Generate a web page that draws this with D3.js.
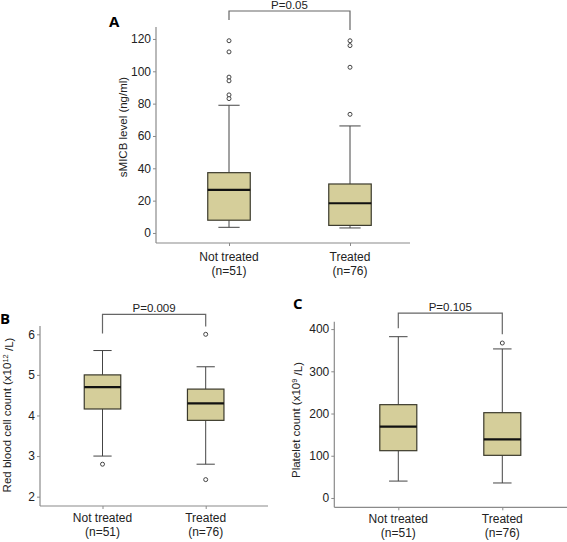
<!DOCTYPE html>
<html>
<head>
<meta charset="utf-8">
<script src="https://cdn.jsdelivr.net/npm/d3@7"></script>
<style>
body{margin:0;background:#fff;}
svg{display:block;font-family:"Liberation Sans",Arial,sans-serif;}
</style>
</head>
<body>
<svg id="chart" width="567" height="542"></svg>
<script>
// ---------- data ----------
const categories = ["Not treated", "Treated"];
const nLabels = ["(n=51)", "(n=76)"];

// [whiskerLow, Q1, median, Q3, whiskerHigh]
const smicbStats = [[3.5, 7.9, 26.6, 37.3, 79], [3.1, 4.7, 18.4, 30.3, 66.2]];
const smicbOutliers = [[118.9, 112, 96.4, 94.1, 85.4, 83.1], [118.9, 115.9, 102.5, 73.4]];
const smicbTicks = [0, 20, 40, 60, 80, 100, 120];

const rbcStats = [[3.0, 4.16, 4.7, 5.0, 5.6], [2.8, 3.88, 4.3, 4.65, 5.2]];
const rbcOutliers = [[2.8], [6.0, 2.42]];
const rbcTicks = [2, 3, 4, 5, 6];

const pltStats = [[40, 112, 169, 221, 382], [35.5, 101, 139, 202, 353]];
const pltOutliers = [[], [367]];
const pltTicks = [0, 100, 200, 300, 400];

const pLabels = ["P=0.05", "P=0.009", "P=0.105"];
// bracket [top, leftEnd, rightEnd] in data units
const brackets = [[137.3, 131.8, 125.6], [6.49, 6.02, 6.19], [438, 402, 388]];

// ---------- layout ----------
const svg = d3.select("#chart");
const panels = [
  {letter: "A", lx: 109, ly: 27, stats: smicbStats, outliers: smicbOutliers, ticks: smicbTicks,
   yDomain: [-6.2, 127.4], yRange: [243, 27], axisX: 156, xEnd: 410, catRange: [229, 350], boxW: 42.5,
   ylab: ["sMICB level (ng/ml)"], ylx: 123, yly: 127, xl1: 261, bracket: brackets[0], p: pLabels[0]},
  {letter: "B", lx: 0, ly: 324, stats: rbcStats, outliers: rbcOutliers, ticks: rbcTicks,
   yDomain: [1.77, 6.0 + (334.3 - 326) / 40.6], yRange: [506, 326], axisX: 40, xEnd: 268, catRange: [102.5, 205.7], boxW: 36.5,
   ylab: ["Red blood cell count (x10", "12", " /L)"], ylx: 7, yly: 415, xl1: 522, bracket: brackets[1], p: pLabels[1]},
  {letter: "C", lx: 293, ly: 309, stats: pltStats, outliers: pltOutliers, ticks: pltTicks,
   yDomain: [-22.1, 417.5], yRange: [507.3, 321.7], axisX: 334.3, xEnd: 567, catRange: [398.3, 502.3], boxW: 37,
   ylab: ["Platelet count (x10", "9", " /L)"], ylx: 296, yly: 420, xl1: 523, bracket: brackets[2], p: pLabels[2]}
];

const fillCol = "#d5ce9a", boxStroke = "#3b3a2c", axisCol = "#8a8a8a", txtCol = "#222";

panels.forEach(P => {
  const y = d3.scaleLinear().domain(P.yDomain).range(P.yRange);
  const x = d3.scalePoint().domain(categories).range(P.catRange);
  const g = svg.append("g");

  // y axis
  const ya = g.append("g").attr("transform", `translate(${P.axisX},0)`)
    .call(d3.axisLeft(y).tickValues(P.ticks).tickFormat(d3.format("d")).tickSize(3).tickSizeOuter(0).tickPadding(2));
  ya.select(".domain").remove();
  ya.selectAll(".tick line").attr("stroke", axisCol);
  ya.selectAll(".tick text").attr("fill", txtCol).style("font-size", "12px").style("font-family", "Liberation Sans, Arial, sans-serif");
  g.append("line").attr("x1", P.axisX).attr("x2", P.axisX).attr("y1", P.yRange[1]).attr("y2", P.yRange[0])
    .attr("stroke", axisCol).attr("stroke-width", 1.2);

  // x axis
  const xa = g.append("g").attr("transform", `translate(0,${P.yRange[0]})`)
    .call(d3.axisBottom(x).tickSize(3).tickFormat(""));
  xa.select(".domain").remove();
  xa.selectAll(".tick line").attr("stroke", axisCol);
  g.append("line").attr("x1", P.axisX).attr("x2", P.xEnd).attr("y1", P.yRange[0]).attr("y2", P.yRange[0])
    .attr("stroke", axisCol).attr("stroke-width", 1.2);

  categories.forEach((c, i) => {
    g.append("text").attr("x", x(c)).attr("y", P.xl1).attr("text-anchor", "middle")
      .attr("fill", txtCol).style("font-size", "12px").text(c);
    g.append("text").attr("x", x(c)).attr("y", P.xl1 + 14).attr("text-anchor", "middle")
      .attr("fill", txtCol).style("font-size", "12px").text(nLabels[i]);
  });

  // boxes
  categories.forEach((c, i) => {
    const s = P.stats[i], cx = x(c), hw = P.boxW / 2;
    g.append("line").attr("x1", cx).attr("x2", cx).attr("y1", y(s[0])).attr("y2", y(s[1])).attr("stroke", "#444");
    g.append("line").attr("x1", cx).attr("x2", cx).attr("y1", y(s[3])).attr("y2", y(s[4])).attr("stroke", "#444");
    g.append("line").attr("x1", cx - hw / 2).attr("x2", cx + hw / 2).attr("y1", y(s[0])).attr("y2", y(s[0])).attr("stroke", "#444");
    g.append("line").attr("x1", cx - hw / 2).attr("x2", cx + hw / 2).attr("y1", y(s[4])).attr("y2", y(s[4])).attr("stroke", "#444");
    g.append("rect").attr("x", cx - hw).attr("width", P.boxW).attr("y", y(s[3])).attr("height", y(s[1]) - y(s[3]))
      .attr("fill", fillCol).attr("stroke", boxStroke).attr("stroke-width", 1.2);
    g.append("line").attr("x1", cx - hw).attr("x2", cx + hw).attr("y1", y(s[2])).attr("y2", y(s[2]))
      .attr("stroke", "#111").attr("stroke-width", 2.2);
    P.outliers[i].forEach(v => {
      g.append("circle").attr("cx", cx).attr("cy", y(v)).attr("r", 2)
        .attr("fill", "#fff").attr("stroke", "#444").attr("stroke-width", 1);
    });
  });

  // bracket
  const b = P.bracket, x0 = x(categories[0]), x1 = x(categories[1]);
  g.append("path").attr("d", `M${x0},${y(b[1])}V${y(b[0])}H${x1}V${y(b[2])}`)
    .attr("fill", "none").attr("stroke", "#666").attr("stroke-width", 1.2);
  g.append("text").attr("x", (x0 + x1) / 2).attr("y", y(b[0]) - 2).attr("text-anchor", "middle")
    .attr("fill", txtCol).style("font-size", "11.5px").text(P.p);

  // y label
  const yl = g.append("text").attr("transform", `translate(${P.ylx},${P.yly}) rotate(-90)`)
    .attr("text-anchor", "middle").attr("dy", "0.35em").attr("fill", txtCol).style("font-size", "11.5px");
  yl.append("tspan").text(P.ylab[0]);
  if (P.ylab.length > 1) {
    yl.append("tspan").attr("dy", "-0.4em").style("font-size", "7.5px").text(P.ylab[1]);
    yl.append("tspan").attr("dy", "0.4em").text(P.ylab[2]);
  }

  // panel letter
  g.append("text").attr("x", P.lx).attr("y", P.ly).attr("fill", "#000")
    .style("font-family", "Open Sans, Liberation Sans, sans-serif").style("font-weight", "bold").style("font-size", "15px")
    .text(P.letter);
});
</script>
</body>
</html>
